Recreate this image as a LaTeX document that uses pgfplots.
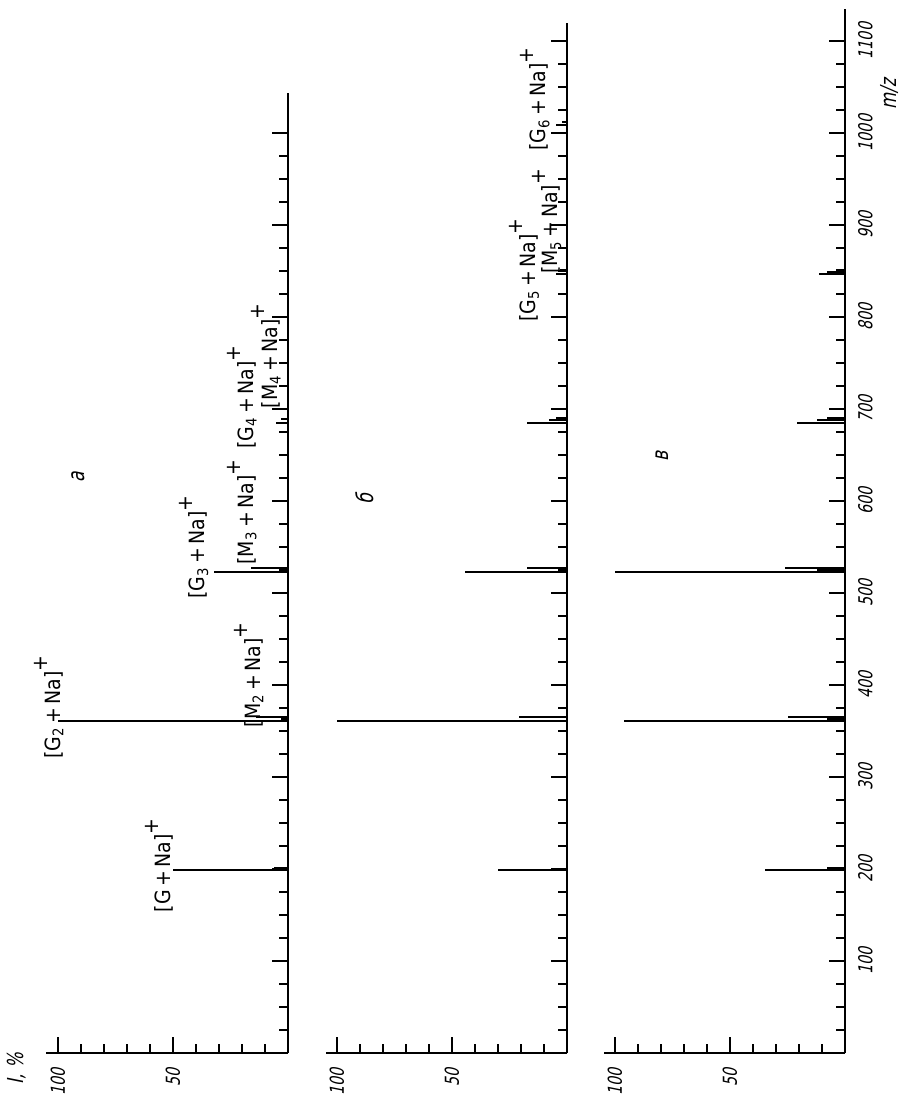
\documentclass[border=0pt]{standalone}
\usepackage{fontspec}
\setmainfont{DejaVu Sans}
\newfontfamily\gostsl[FakeStretch=0.75,FakeSlant=0.2]{DejaVu Sans}
\newfontfamily\gostup[FakeStretch=0.9]{DejaVu Sans}
\usepackage{pgfplots}
\pgfplotsset{compat=1.18}

\newcommand\ion[1]{[#1\,+\,Na]\raisebox{1.1ex}{+}}

\pgfplotsset{
  spec/.style={
    x=1.15pt, y=0.46pt, x dir=reverse,
    xmin=0, xmax=105, ymin=0,
    axis x line=bottom, axis y line=right,
    axis line style={-, line width=1.1pt},
    tick align=inside,
    major tick length=8pt, minor tick length=4.5pt,
    tick style={line width=0.7pt, black},
    xtick={50,100}, minor xtick={10,20,30,40,60,70,80,90},
    xticklabel style={rotate=90, anchor=east, font=\fontsize{9.6}{10}\gostsl},
    xticklabel shift=4pt,
    /pgf/number format/assume math mode=true,
    ytick distance=100, minor y tick num=3,
    yticklabels={},
    clip=false,
  },
  peak/.style={xcomb, no marks, black, line width=1.05pt},
}
\tikzset{
  ionlab/.style={rotate=90, font=\fontsize{10.5}{11}\gostup, inner sep=0pt},
  pletter/.style={rotate=90, font=\fontsize{11.5}{12}\gostsl, inner sep=0pt},
}

\begin{document}
\begin{tikzpicture}
\path[use as bounding box] (0,0) rectangle (450.5pt,552.5pt);

% panel a
\begin{axis}[spec, ymax=1043, at={(144pt,26pt)}, anchor=origin]
\addplot[peak] coordinates {(50,199) (6,201) (100,361) (14,365) (3,363)
  (32,523) (16,527) (5,685) (3,689)};
\node[ionlab] at (axis cs:56,204) {\ion{G}};
\node[ionlab] at (axis cs:104,376) {\ion{G\textsubscript{2}}};
\node[ionlab] at (axis cs:17,411) {\ion{M\textsubscript{2}}};
\node[ionlab] at (axis cs:41,550) {\ion{G\textsubscript{3}}};
\node[ionlab] at (axis cs:20,588) {\ion{M\textsubscript{3}}};
\node[ionlab] at (axis cs:20,713) {\ion{G\textsubscript{4}}};
\node[ionlab] at (axis cs:9.5,758) {\ion{M\textsubscript{4}}};
\node[pletter] at (axis cs:91,626) {а};
\node[rotate=90, font=\fontsize{11}{12}\gostsl] at (axis cs:118,-17) {I, \%};
\end{axis}

% panel b
\begin{axis}[spec, ymax=1120, at={(283.5pt,26pt)}, anchor=origin]
\addplot[peak] coordinates {(30,199) (100,361) (21,365) (44.5,523) (17.5,527)
  (17.5,685) (7.7,688) (5,690) (5,847) (3,851) (5,1009) (2,1012)};
\node[ionlab] at (axis cs:18.5,851) {\ion{G\textsubscript{5}}};
\node[ionlab] at (axis cs:8.8,904) {\ion{M\textsubscript{5}}};
\node[ionlab] at (axis cs:14,1037) {\ion{G\textsubscript{6}}};
\node[pletter] at (axis cs:88,602) {б};
\end{axis}

% panel v
\begin{axis}[spec, ymax=1135, at={(422.5pt,26pt)}, anchor=origin,
  ytick={0,100,...,1100},
  yticklabels={{},100,200,300,400,500,600,700,800,900,1000,1100},
  yticklabel style={rotate=90, anchor=north, font=\fontsize{9.6}{10}\gostsl},
  yticklabel shift=3pt]
\addplot[peak] coordinates {(35,199) (8,201) (96,361) (25,365) (8,363)
  (100,523) (26,527) (12,525) (21,685) (12,688) (8,690) (11.5,847) (8,849) (4,851)};
\node[pletter] at (axis cs:79.5,649) {в};
\node[rotate=90, font=\fontsize{11}{12}\gostsl] at (axis cs:-19.4,1042) {m/z};
\end{axis}
\end{tikzpicture}
\end{document}
